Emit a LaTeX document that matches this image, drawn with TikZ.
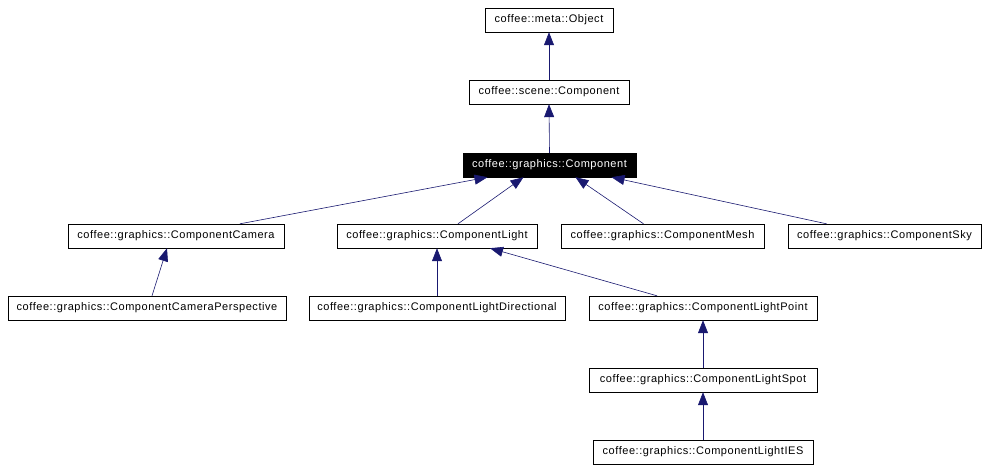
\documentclass[tikz,border=0pt]{standalone}
\usepackage{fontspec}
\setmainfont[LetterSpace=5]{Liberation Sans}
\usepackage{tikz}
\usetikzlibrary{arrows.meta}

\definecolor{edgeblue}{HTML}{191970}

\begin{document}
\begin{tikzpicture}[x=1pt, y=-1pt,
    cls/.style={draw, thin, minimum height=24pt, inner sep=0pt, font=\fontsize{11}{13}\selectfont},
    here/.style={cls, fill=black, text=white},
    edge/.style={draw=edgeblue, semithick, -{Triangle[length=13pt, width=10pt]}}]
\useasboundingbox (0, 0) rectangle (987, 471);
% top of the tree
\node[cls, minimum width=128pt] (obj) at (549, 20) {coffee::meta::Object};
\node[cls, minimum width=160pt] (scene) at (549, 92) {coffee::scene::Component};
\node[here, minimum width=173pt] (comp) at (549.5, 165) {coffee::graphics::Component};
% direct children
\node[cls, minimum width=216pt] (cam) at (176, 236) {coffee::graphics::ComponentCamera};
\node[cls, minimum width=200pt] (light) at (437, 236) {coffee::graphics::ComponentLight};
\node[cls, minimum width=203pt] (mesh) at (662.5, 236) {coffee::graphics::ComponentMesh};
\node[cls, minimum width=193pt] (sky) at (884.5, 236) {coffee::graphics::ComponentSky};
% further down
\node[cls, minimum width=278pt] (persp) at (147, 308) {coffee::graphics::ComponentCameraPerspective};
\node[cls, minimum width=256pt] (dir) at (437, 308) {coffee::graphics::ComponentLightDirectional};
\node[cls, minimum width=228pt] (point) at (703, 308) {coffee::graphics::ComponentLightPoint};
\node[cls, minimum width=228pt] (spot) at (703, 380) {coffee::graphics::ComponentLightSpot};
\node[cls, minimum width=220pt] (ies) at (703, 452) {coffee::graphics::ComponentLightIES};

\draw[edge] (scene.north) -- (obj.south);
\draw[edge] (comp.north) -- (scene.south);
\draw[edge] ([xshift=64pt]cam.north) -- ([xshift=-62pt]comp.south);
\draw[edge] ([xshift=21pt]light.north) -- ([xshift=-26pt]comp.south);
\draw[edge] ([xshift=-19pt]mesh.north) -- ([xshift=26pt]comp.south);
\draw[edge] ([xshift=-58pt]sky.north) -- ([xshift=62pt]comp.south);
\draw[edge] ([xshift=5pt]persp.north) -- ([xshift=-9pt]cam.south);
\draw[edge] (dir.north) -- (light.south);
\draw[edge] ([xshift=-46pt]point.north) -- ([xshift=53pt]light.south);
\draw[edge] (spot.north) -- (point.south);
\draw[edge] (ies.north) -- (spot.south);
\end{tikzpicture}
\end{document}
